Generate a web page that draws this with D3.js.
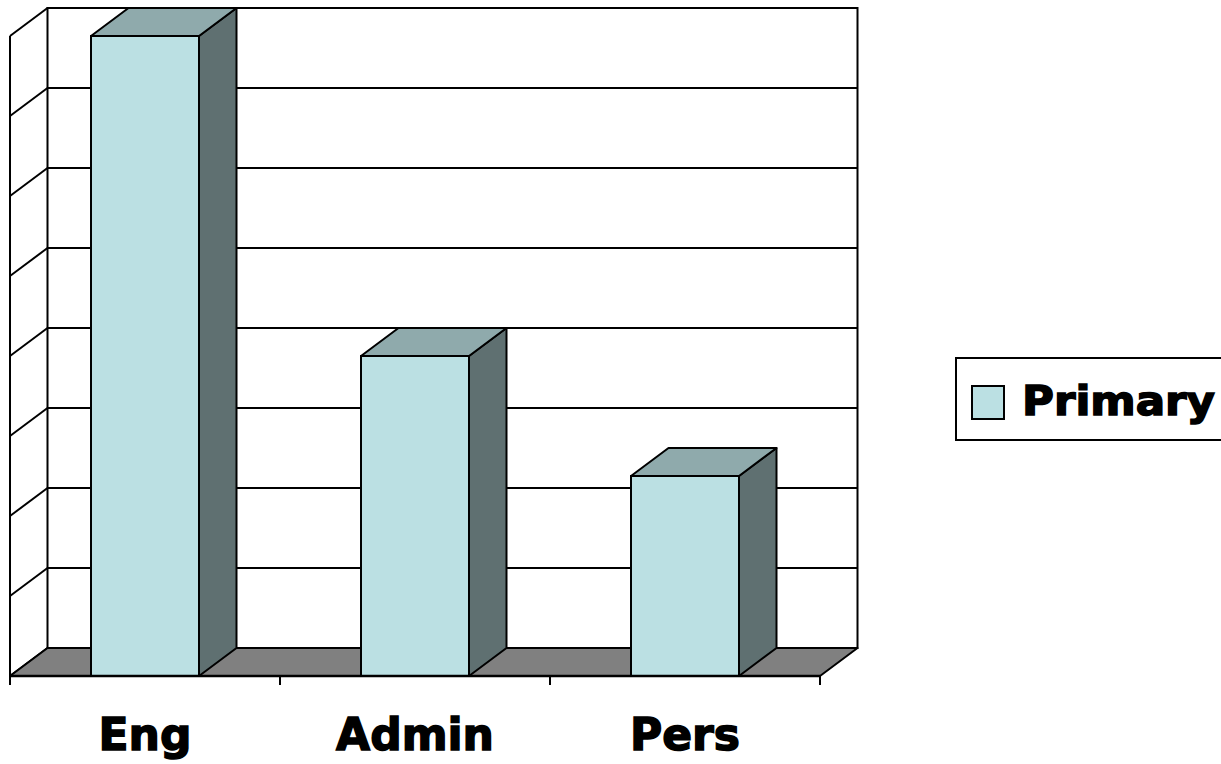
<!DOCTYPE html>
<html>
<head>
<meta charset="utf-8">
<script src="https://cdn.jsdelivr.net/npm/d3@7/dist/d3.min.js"></script>
<style>
  html, body { margin: 0; padding: 0; background: #ffffff; }
  svg { display: block; }
</style>
</head>
<body>
<svg id="chart" width="1221" height="764"></svg>
<script>
// ---- data ----
const categories = ["Eng", "Admin", "Pers"];
const primaryValues = [8, 4, 2.5];
const yTicks = [0, 1, 2, 3, 4, 5, 6, 7, 8];
const seriesName = "Primary";

// ---- layout ----
const front = { left: 10, right: 820, bottom: 676, top: 36 };
const depth = { dx: 37.5, dy: -28 };   // offset from front plane to back plane

const svg = d3.select("#chart");

const x = d3.scaleBand().domain(categories).range([front.left, front.right]).padding(0);
const y = d3.scaleLinear().domain([0, 8]).range([front.bottom, front.top]);

const barFrac0 = 0.30, barFrac1 = 0.70;

const colFront = "#BBE0E3", colTop = "#8FAAAC", colSide = "#5F7071", colFloor = "#808080";
const line = d3.line();

// back wall
const bx0 = front.left + depth.dx, bx1 = front.right + depth.dx;
svg.append("rect")
  .attr("x", bx0).attr("y", y(8) + depth.dy)
  .attr("width", bx1 - bx0).attr("height", y(0) - y(8))
  .attr("fill", "#fff").attr("stroke", "#000").attr("stroke-width", 2);

// gridlines on back wall + left wall
yTicks.forEach(t => {
  const yb = y(t) + depth.dy;
  svg.append("line")
    .attr("x1", bx0).attr("x2", bx1).attr("y1", yb).attr("y2", yb)
    .attr("stroke", "#000").attr("stroke-width", 2);
  svg.append("line")
    .attr("x1", bx0).attr("y1", yb).attr("x2", front.left).attr("y2", y(t))
    .attr("stroke", "#000").attr("stroke-width", 2);
});
// left wall front edge
svg.append("line")
  .attr("x1", front.left).attr("x2", front.left)
  .attr("y1", y(8)).attr("y2", y(0))
  .attr("stroke", "#000").attr("stroke-width", 2);

// floor
svg.append("path")
  .attr("d", line([[bx0, y(0) + depth.dy], [bx1, y(0) + depth.dy], [front.right, y(0)], [front.left, y(0)]]) + "Z")
  .attr("fill", colFloor).attr("stroke", "#000").attr("stroke-width", 2).attr("stroke-linejoin", "round");

// bars
const bars = svg.append("g");
categories.forEach((c, i) => {
  const v = primaryValues[i];
  const xl = x(c) + x.bandwidth() * barFrac0;
  const xr = x(c) + x.bandwidth() * barFrac1;
  const yt = y(v), yb = y(0);
  const g = bars.append("g");
  g.append("path")
    .attr("d", line([[xr, yt], [xr + depth.dx, yt + depth.dy], [xr + depth.dx, yb + depth.dy], [xr, yb]]) + "Z")
    .attr("fill", colSide).attr("stroke", "#000").attr("stroke-width", 2).attr("stroke-linejoin", "round");
  g.append("path")
    .attr("d", line([[xl, yt], [xl + depth.dx, yt + depth.dy], [xr + depth.dx, yt + depth.dy], [xr, yt]]) + "Z")
    .attr("fill", colTop).attr("stroke", "#000").attr("stroke-width", 2).attr("stroke-linejoin", "round");
  g.append("rect")
    .attr("x", xl).attr("y", yt).attr("width", xr - xl).attr("height", yb - yt)
    .attr("fill", colFront).attr("stroke", "#000").attr("stroke-width", 2);
});

// category axis line + boundary ticks
svg.append("line")
  .attr("x1", front.left).attr("x2", front.right)
  .attr("y1", y(0)).attr("y2", y(0))
  .attr("stroke", "#000").attr("stroke-width", 2.5);
const boundaries = categories.map(c => x(c)).concat([x(categories[categories.length - 1]) + x.bandwidth()]);
boundaries.forEach(bx => {
  svg.append("line")
    .attr("x1", bx).attr("x2", bx).attr("y1", y(0)).attr("y2", y(0) + 9)
    .attr("stroke", "#000").attr("stroke-width", 2);
});

// category labels
svg.append("g").selectAll("text").data(categories).join("text")
  .attr("x", d => x(d) + x.bandwidth() / 2)
  .attr("y", 750)
  .attr("text-anchor", "middle")
  .attr("font-family", "'DejaVu Sans', sans-serif")
  .attr("font-weight", "bold")
  .attr("font-size", 44)
  .attr("stroke", "#000").attr("stroke-width", 1.5)
  .attr("fill", "#000")
  .text(d => d);

// legend
const leg = svg.append("g");
leg.append("rect")
  .attr("x", 956).attr("y", 358).attr("width", 300).attr("height", 82)
  .attr("fill", "#fff").attr("stroke", "#000").attr("stroke-width", 2);
leg.append("rect")
  .attr("x", 972).attr("y", 386).attr("width", 32).attr("height", 33)
  .attr("fill", colFront).attr("stroke", "#000").attr("stroke-width", 2);
leg.append("text")
  .attr("x", 1022).attr("y", 415)
  .attr("font-family", "'DejaVu Sans', sans-serif")
  .attr("font-weight", "bold")
  .attr("font-size", 41)
  .attr("textLength", 193).attr("lengthAdjust", "spacingAndGlyphs")
  .attr("stroke", "#000").attr("stroke-width", 1.5)
  .attr("fill", "#000")
  .text(seriesName);
</script>
</body>
</html>
